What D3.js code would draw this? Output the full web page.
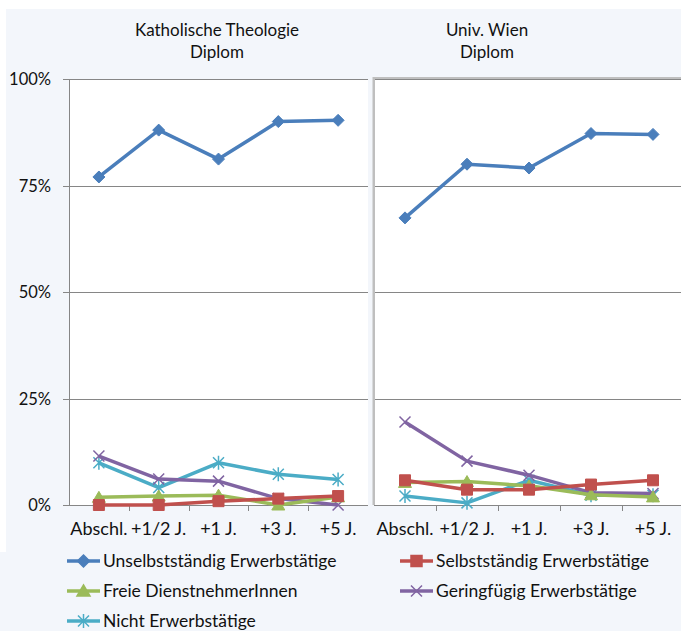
<!DOCTYPE html>
<html>
<head>
<meta charset="utf-8">
<script src="https://cdn.jsdelivr.net/npm/d3@7"></script>
<style>
  body { margin: 0; background: #fff; }
  text { font-family: Lato, "Open Sans", sans-serif; fill: #111; }
</style>
</head>
<body>
<div id="chart"></div>
<script>
const categories = ["Abschl.", "+1/2 J.", "+1 J.", "+3 J.", "+5 J."];
const seriesNames = ["Unselbstständig Erwerbstätige", "Selbstständig Erwerbstätige",
                     "Freie DienstnehmerInnen", "Geringfügig Erwerbstätige", "Nicht Erwerbstätige"];
const seriesColors = ["#4a7ebb", "#c0504d", "#9bbb59", "#8064a2", "#4bacc6"];
const seriesMarkers = ["diamond", "square", "triangle", "x", "star"];
const yTicks = [0, 25, 50, 75, 100];

// Katholische Theologie Diplom (%)
const kathUnselbst = [77.0, 88.0, 81.2, 90.0, 90.3];
const kathSelbst   = [0.0, 0.0, 0.9, 1.5, 2.1];
const kathFrei     = [1.8, 2.1, 2.3, 0.0, 1.9];
const kathGering   = [11.5, 6.1, 5.6, 1.5, 0.0];
const kathNicht    = [9.9, 4.1, 9.9, 7.2, 6.0];

// Univ. Wien Diplom (%)
const wienUnselbst = [67.4, 80.0, 79.1, 87.2, 87.0];
const wienSelbst   = [5.8, 3.6, 3.6, 4.8, 5.8];
const wienFrei     = [5.3, 5.5, 4.5, 2.4, 1.9];
const wienGering   = [19.5, 10.3, 7.0, 2.9, 2.7];
const wienNicht    = [2.1, 0.5, 5.8, 2.3, 2.3];

const panels = [
  {title: ["Katholische Theologie", "Diplom"], series: [kathUnselbst, kathSelbst, kathFrei, kathGering, kathNicht],
   x0: 69, x1: 368, titleX: 217, showY: true, frame: false},
  {title: ["Univ. Wien", "Diplom"], series: [wienUnselbst, wienSelbst, wienFrei, wienGering, wienNicht],
   x0: 374, x1: 684, titleX: 487, showY: false, frame: true}
];

const W = 681, H = 631;
const plotTop = 79, plotBottom = 505;
const grid = "#868686";

const svg = d3.select("#chart").append("svg")
  .attr("width", W).attr("height", H);

// outer backgrounds
svg.append("rect").attr("x", 6).attr("y", 9).attr("width", W - 6).attr("height", H - 9).attr("fill", "#f3f6fb");
svg.append("rect").attr("x", 0).attr("y", 552).attr("width", 6).attr("height", H - 552).attr("fill", "#f3f6fb");

const y = d3.scaleLinear().domain([0, 100]).range([plotBottom, plotTop]);

function markerPath(type) {
  if (type === "diamond") return "M0,-6L6,0L0,6L-6,0Z";
  if (type === "square") return "M-5.5,-5.5H5.5V5.5H-5.5Z";
  if (type === "triangle") return "M0,-6L6.5,5H-6.5Z";
  if (type === "x") return "M-5.5,-5.5L5.5,5.5M-5.5,5.5L5.5,-5.5";
  return "M-5.5,-5.5L5.5,5.5M-5.5,5.5L5.5,-5.5M0,-7V7";
}

panels.forEach(p => {
  const g = svg.append("g");
  const x = d3.scaleBand().domain(categories).range([p.x0, p.x1]);

  g.append("rect")
    .attr("x", p.x0).attr("y", plotTop)
    .attr("width", Math.min(p.x1, W) - p.x0).attr("height", plotBottom - plotTop)
    .attr("fill", "#fff");

  if (p.frame) {
    g.append("path")
      .attr("d", `M${p.x0 - 0.5},${plotBottom}V${plotTop - 1}H${W}`)
      .attr("fill", "none").attr("stroke", "#bfbfbf").attr("stroke-width", 2);
  }

  // gridlines
  g.selectAll(".grid").data(yTicks.filter(d => d > 0)).enter()
    .append("line")
    .attr("x1", p.x0).attr("x2", p.x1)
    .attr("y1", d => Math.round(y(d)) + 0.5).attr("y2", d => Math.round(y(d)) + 0.5)
    .attr("stroke", grid).attr("stroke-width", 1);

  // y axis
  g.append("line")
    .attr("x1", p.x0 + 0.5).attr("x2", p.x0 + 0.5)
    .attr("y1", plotTop).attr("y2", plotBottom)
    .attr("stroke", p.frame ? "#bfbfbf" : grid);

  if (p.showY) {
    g.selectAll(".ytick").data(yTicks).enter()
      .append("line")
      .attr("x1", p.x0 - 6).attr("x2", p.x0)
      .attr("y1", d => Math.round(y(d)) + 0.5).attr("y2", d => Math.round(y(d)) + 0.5)
      .attr("stroke", grid);
    g.selectAll(".ylab").data(yTicks).enter()
      .append("text")
      .attr("x", 51).attr("y", d => y(d) + 6)
      .attr("text-anchor", "end")
      .style("font-size", "16.5px")
      .text(d => d + "%");
  }

  // x axis
  g.append("line")
    .attr("x1", p.x0 - (p.showY ? 6 : 0)).attr("x2", p.x1)
    .attr("y1", plotBottom + 0.5).attr("y2", plotBottom + 0.5)
    .attr("stroke", grid);
  g.selectAll(".xtick").data(categories.slice(1)).enter()
    .append("line")
    .attr("x1", d => Math.round(x(d)) + 0.5).attr("x2", d => Math.round(x(d)) + 0.5)
    .attr("y1", plotBottom).attr("y2", plotBottom + 6)
    .attr("stroke", grid);
  g.selectAll(".xlab").data(categories).enter()
    .append("text")
    .attr("x", d => x(d) + x.bandwidth() / 2)
    .attr("y", plotBottom + 30)
    .attr("text-anchor", "middle")
    .style("font-size", "18px")
    .text(d => d);

  // titles
  g.selectAll(".title").data(p.title).enter()
    .append("text")
    .attr("x", p.titleX).attr("y", (d, i) => 36 + i * 22)
    .attr("text-anchor", "middle")
    .style("font-size", "17px")
    .text(d => d);

  const line = d3.line()
    .x((d, i) => x(categories[i]) + x.bandwidth() / 2)
    .y(d => y(d));

  // draw in reverse so the first series sits on top
  for (let s = p.series.length - 1; s >= 0; s--) {
    const vals = p.series[s];
    const col = seriesColors[s];
    g.append("path")
      .attr("d", line(vals))
      .attr("fill", "none").attr("stroke", col)
      .attr("stroke-width", 3.5).attr("stroke-linejoin", "round");
    const m = seriesMarkers[s];
    const filled = m === "diamond" || m === "square" || m === "triangle";
    g.selectAll(null).data(vals).enter()
      .append("path")
      .attr("transform", (d, i) => `translate(${x(categories[i]) + x.bandwidth() / 2},${y(d)})`)
      .attr("d", markerPath(m))
      .attr("fill", filled ? col : "none")
      .attr("stroke", col)
      .attr("stroke-width", filled ? 1 : 1.5);
  }
});

// legend
const legendPos = [[67, 561], [400, 561], [67, 591], [400, 591], [67, 621]];
const legend = svg.append("g");
const items = legend.selectAll(".item").data(seriesNames).enter()
  .append("g")
  .attr("transform", (d, i) => `translate(${legendPos[i][0]},${legendPos[i][1]})`);
items.append("line")
  .attr("x1", 0).attr("x2", 33).attr("y1", 0).attr("y2", 0)
  .attr("stroke", (d, i) => seriesColors[i]).attr("stroke-width", 3.5);
items.append("path")
  .attr("transform", "translate(16.5,0)")
  .attr("d", (d, i) => markerPath(seriesMarkers[i]))
  .attr("fill", (d, i) => ["x", "star"].includes(seriesMarkers[i]) ? "none" : seriesColors[i])
  .attr("stroke", (d, i) => seriesColors[i]).attr("stroke-width", 1.5);
items.append("text")
  .attr("x", 36).attr("y", 6)
  .style("font-size", "17.5px")
  .text(d => d);
</script>
</body>
</html>
